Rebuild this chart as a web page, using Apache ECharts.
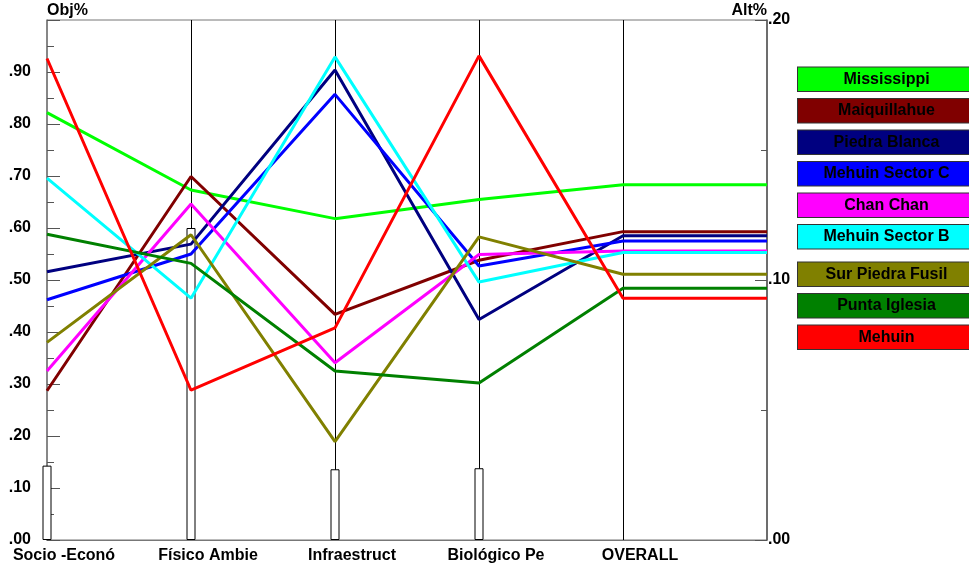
<!DOCTYPE html>
<html>
<head>
<meta charset="utf-8">
<script src="https://cdn.jsdelivr.net/npm/echarts@6/dist/echarts.min.js"></script>
<style>
html,body{margin:0;padding:0;background:#fff;}
#chart{width:969px;height:567px;}
</style>
</head>
<body>
<div id="chart"></div>
<script>
// ---- data ----
const categories = ['Socio -Econó', 'Físico Ambie', 'Infraestruct', 'Biológico Pe', 'OVERALL'];
const weights = [0.143, 0.600, 0.136, 0.138];

const names = ['Mississippi', 'Maiquillahue', 'Piedra Blanca', 'Mehuin Sector C', 'Chan Chan',
  'Mehuin Sector B', 'Sur Piedra Fusil', 'Punta Iglesia', 'Mehuin'];
const colors = ['#00FF00', '#800000', '#000080', '#0000FF', '#FF00FF',
  '#00FFFF', '#808000', '#008000', '#FF0000'];

const mississippi    = [0.822, 0.673, 0.618, 0.655, 0.683];
const maiquillahue   = [0.287, 0.699, 0.434, 0.538, 0.593];
const piedraBlanca   = [0.516, 0.569, 0.904, 0.424, 0.585];
const mehuinSectorC  = [0.462, 0.550, 0.857, 0.527, 0.575];
const chanChan       = [0.325, 0.646, 0.341, 0.549, 0.556];
const mehuinSectorB  = [0.696, 0.465, 0.929, 0.496, 0.553];
const surPiedraFusil = [0.380, 0.587, 0.189, 0.583, 0.511];
const puntaIglesia   = [0.588, 0.532, 0.325, 0.302, 0.484];
const mehuin         = [0.926, 0.288, 0.408, 0.931, 0.465];

const values = [mississippi, maiquillahue, piedraBlanca, mehuinSectorC, chanChan,
  mehuinSectorB, surPiedraFusil, puntaIglesia, mehuin];

const leftTicks = ['.00', '.10', '.20', '.30', '.40', '.50', '.60', '.70', '.80', '.90'];
const rightTicks = ['.00', '.10', '.20'];

// ---- chart ----
const FONT = '"Liberation Sans", Arial, sans-serif';
const chart = echarts.init(document.getElementById('chart'), null, {renderer: 'canvas'});

const lineSeries = names.map((n, i) => {
  const v = values[i];
  const pts = v.map((y, k) => [k, y]);
  pts.push([categories.length, v[v.length - 1]]); // flat run to the right edge
  return {
    name: n,
    type: 'line',
    data: pts,
    showSymbol: false,
    symbol: 'none',
    lineStyle: {color: colors[i], width: 3},
    itemStyle: {color: colors[i]},
    z: 3,
    animation: false
  };
});

const rich = {};
names.forEach((n, i) => {
  rich['s' + i] = {
    width: 177, height: 23.5, lineHeight: 23.5, align: 'center',
    backgroundColor: colors[i], borderColor: '#333', borderWidth: 1,
    color: '#000', fontWeight: 'bold', fontSize: 16, fontFamily: FONT
  };
});
const legendBase = {
  orient: 'vertical', left: 793, padding: 0, icon: 'none', itemWidth: 0, itemHeight: 0,
  itemGap: 6, selectedMode: false,
  formatter: (n) => '{s' + names.indexOf(n) + '|' + n + '}',
  textStyle: {rich: rich}
};

const option = {
  animation: false,
  textStyle: {fontFamily: FONT},
  grid: {left: 47, right: 202, top: 20, bottom: 27, show: true, borderColor: '#777', borderWidth: 1},
  legend: [
    Object.assign({}, legendBase, {top: 66.5, data: names.slice(0, 6)}),
    Object.assign({}, legendBase, {top: 261.5, data: names.slice(6)})
  ],
  xAxis: {
    type: 'value', min: 0, max: categories.length, interval: 1,
    axisLine: {show: true, lineStyle: {color: '#777', width: 1}},
    axisTick: {show: false},
    splitLine: {show: true, lineStyle: {color: ['rgba(0,0,0,0)', '#000', '#000', '#000', '#000', 'rgba(0,0,0,0)'], width: 1}},
    axisLabel: {
      margin: 8,
      formatter: (v) => categories[v] !== undefined ? '{a|' + categories[v] + '}' : '',
      rich: {a: {padding: [0, 0, 0, 34], fontWeight: 'bold', fontSize: 16, color: '#000', fontFamily: FONT}}
    }
  },
  yAxis: [
    {
      type: 'value', min: 0, max: 1, interval: 0.1,
      name: 'Obj%', nameLocation: 'end', nameGap: 1, nameMoveOverlap: false,
      nameTextStyle: {align: 'left', verticalAlign: 'bottom', fontWeight: 'bold', fontSize: 16, color: '#000', fontFamily: FONT},
      axisLine: {show: true, lineStyle: {color: '#777', width: 1.5}},
      axisTick: {show: true, inside: true, length: 13, lineStyle: {color: '#555'}},
      minorTick: {show: true, splitNumber: 2, length: 7, lineStyle: {color: '#555'}},
      splitLine: {show: false},
      axisLabel: {
        margin: 16, fontWeight: 'bold', fontSize: 16, color: '#000',
        formatter: (v) => { const i = Math.round(v * 10); return leftTicks[i] !== undefined ? leftTicks[i] : ''; }
      }
    },
    {
      type: 'value', min: 0, max: 0.2, interval: 0.1, position: 'right',
      name: 'Alt%', nameLocation: 'end', nameGap: 1, nameMoveOverlap: false,
      nameTextStyle: {align: 'right', verticalAlign: 'bottom', fontWeight: 'bold', fontSize: 16, color: '#000', fontFamily: FONT},
      axisLine: {show: true, lineStyle: {color: '#555', width: 1.5}},
      axisTick: {show: true, inside: true, length: 12, lineStyle: {color: '#555'}},
      minorTick: {show: true, splitNumber: 2, length: 6, lineStyle: {color: '#555'}},
      splitLine: {show: false},
      axisLabel: {
        margin: 1, fontWeight: 'bold', fontSize: 16, color: '#000',
        formatter: (v) => { const i = Math.round(v * 10); return rightTicks[i] !== undefined ? rightTicks[i] : ''; }
      }
    }
  ],
  series: [
    {
      name: 'weights', type: 'bar', yAxisIndex: 0, barWidth: 9, clip: false, z: 2,
      data: weights.map((w, k) => [k, w]),
      itemStyle: {color: '#fff', borderColor: '#000', borderWidth: 1}
    }
  ].concat(lineSeries)
};
chart.setOption(option);
</script>
</body>
</html>
